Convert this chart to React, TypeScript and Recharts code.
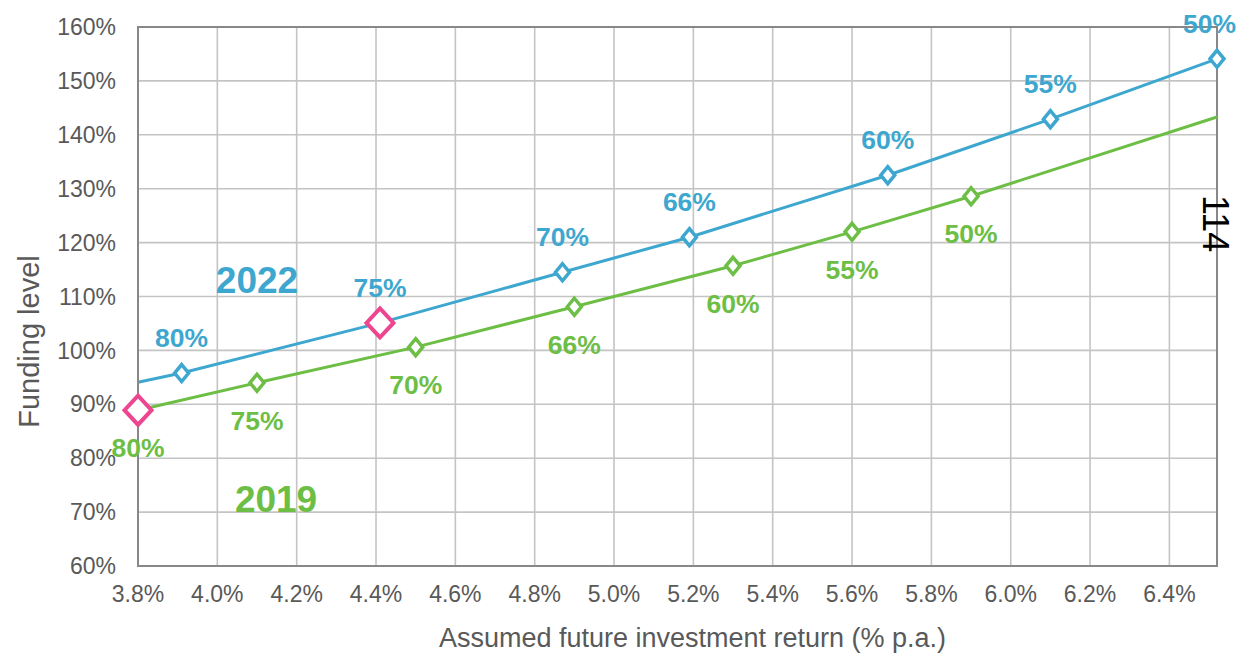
import React from 'react';
import {
  ComposedChart,
  Line,
  XAxis,
  YAxis,
  CartesianGrid,
  LabelList,
  Label,
  ReferenceArea,
  ReferenceDot,
} from 'recharts';

// 2022 valuation
const returns2022 = [3.8, 3.91, 4.41, 4.87, 5.19, 5.69, 6.1, 6.52];
const funding2022 = [94.1, 95.8, 105.1, 114.5, 121.0, 132.5, 142.9, 154.1];
const labels2022 = ['', '80%', '75%', '70%', '66%', '60%', '55%', '50%'];
const highlight2022 = [false, false, true, false, false, false, false, false];

// 2019 valuation
const returns2019 = [3.8, 4.1, 4.5, 4.9, 5.3, 5.6, 5.9, 6.52];
const funding2019 = [88.9, 94.0, 100.6, 108.1, 115.7, 122.0, 128.6, 143.3];
const labels2019 = ['80%', '75%', '70%', '66%', '60%', '55%', '50%', ''];
const highlight2019 = [true, false, false, false, false, false, false, false];

const xTicks = [3.8, 4.0, 4.2, 4.4, 4.6, 4.8, 5.0, 5.2, 5.4, 5.6, 5.8, 6.0, 6.2, 6.4];
const yTicks = [60, 70, 80, 90, 100, 110, 120, 130, 140, 150, 160];

const BLUE = '#3DA7CF';
const GREEN = '#6DBE45';
const PINK = '#EE4591';
const TEXT = '#595959';
const FONT = '"Liberation Sans", Arial, sans-serif';
const CHART_W = 1237;
const CHART_H = 654;

const build = (xs: number[], ys: number[], labels: string[], hl: boolean[]) =>
  xs.map((x, i) => ({ x, y: ys[i], label: labels[i], hl: hl[i] }));

const data2022 = build(returns2022, funding2022, labels2022, highlight2022);
const data2019 = build(returns2019, funding2019, labels2019, highlight2019);

const makeDot = (color: string) => (props: any) => {
  const { cx, cy, payload, index } = props;
  if (!payload || !payload.label) return <g key={`d-${index}`} />;
  const big = payload.hl;
  const rx = big ? 13.5 : 7;
  const ry = big ? 14.5 : 8.5;
  const stroke = big ? PINK : color;
  const d = `M${cx},${cy - ry} L${cx + rx},${cy} L${cx},${cy + ry} L${cx - rx},${cy} Z`;
  return (
    <path
      key={`d-${index}`}
      d={d}
      fill="#fff"
      stroke={stroke}
      strokeWidth={big ? 4 : 3.5}
      strokeLinejoin="miter"
    />
  );
};

const LABEL_SIZE = 26.5;

const makeLabel = (color: string, dy: number) => (props: any) => {
  const { x, y, value, index } = props;
  if (!value) return <g key={`l-${index}`} />;
  const half = (String(value).length * 0.667 * LABEL_SIZE) / 2;
  const cx = Math.min(x, CHART_W - half - 1);
  return (
    <text
      key={`l-${index}`}
      x={cx}
      y={y + dy}
      textAnchor="middle"
      fill={color}
      fontFamily={FONT}
      fontWeight="bold"
      fontSize={LABEL_SIZE}
    >
      {value}
    </text>
  );
};

const yearLabel = (text: string, color: string) => (props: any) => {
  const vb = props.viewBox || {};
  const cx = (vb.x || 0) + (vb.width || 0) / 2;
  const cy = (vb.y || 0) + (vb.height || 0) / 2;
  return (
    <text x={cx} y={cy} textAnchor="middle" fill={color} fontFamily={FONT} fontWeight="bold" fontSize={37}>
      {text}
    </text>
  );
};

const YLabel = (props: any) => {
  const vb = props.viewBox;
  const x = vb.x + 39;
  const y = vb.y + vb.height / 2 + 45;
  return (
    <text
      x={x}
      y={y}
      transform={`rotate(-90, ${x}, ${y})`}
      textAnchor="middle"
      fill={TEXT}
      fontFamily={FONT}
      fontSize={29}
    >
      Funding level
    </text>
  );
};

const XLabel = (props: any) => {
  const vb = props.viewBox;
  const x = vb.x + vb.width / 2 + 15;
  const y = vb.y + 81;
  return (
    <text x={x} y={y} textAnchor="middle" fill={TEXT} fontFamily={FONT} fontSize={27}>
      Assumed future investment return (% p.a.)
    </text>
  );
};

export default function App() {
  return (
    <div style={{ position: 'absolute', left: 0, top: 0, width: CHART_W, height: CHART_H, background: '#fff' }}>
      <ComposedChart
        width={CHART_W}
        height={CHART_H}
        margin={{ top: 27, right: 20, bottom: 0, left: 0 }}
        style={{ fontFamily: FONT }}
      >
        <CartesianGrid stroke="#c4c4c4" strokeWidth={1.6} />
        <XAxis
          type="number"
          dataKey="x"
          domain={[3.8, 6.52]}
          ticks={xTicks}
          height={88}
          tickLine={false}
          tickSize={6}
          tickMargin={14}
          axisLine={{ stroke: '#888', strokeWidth: 2 }}
          tick={{ fill: TEXT, fontSize: 23, fontFamily: FONT }}
          tickFormatter={(v: number) => `${v.toFixed(1)}%`}
          interval={0}
        >
          <Label content={XLabel} />
        </XAxis>
        <YAxis
          type="number"
          domain={[60, 160]}
          ticks={yTicks}
          width={138}
          tickLine={false}
          tickSize={6}
          tickMargin={16}
          axisLine={{ stroke: '#888', strokeWidth: 2 }}
          tick={{ fill: TEXT, fontSize: 23, fontFamily: FONT }}
          tickFormatter={(v: number) => `${v}%`}
          interval={0}
        >
          <Label content={YLabel} />
        </YAxis>
        <ReferenceArea x1={3.8} x2={6.52} y1={60} y2={160} fill="none" stroke="#888" strokeWidth={2} />
        <Line
          data={data2019}
          dataKey="y"
          stroke={GREEN}
          strokeWidth={3}
          dot={makeDot(GREEN)}
          activeDot={false}
          isAnimationActive={false}
        >
          <LabelList dataKey="label" content={makeLabel(GREEN, 47)} />
        </Line>
        <Line
          data={data2022}
          dataKey="y"
          stroke={BLUE}
          strokeWidth={3}
          dot={makeDot(BLUE)}
          activeDot={false}
          isAnimationActive={false}
        >
          <LabelList dataKey="label" content={makeLabel(BLUE, -26)} />
        </Line>
        <ReferenceDot x={4.1} y={110.6} r={0} fill="none" stroke="none" label={<Label content={yearLabel('2022', BLUE)} />} />
        <ReferenceDot x={4.148} y={70.0} r={0} fill="none" stroke="none" label={<Label content={yearLabel('2019', GREEN)} />} />
      </ComposedChart>
      <svg width={CHART_W} height={CHART_H} style={{ position: 'absolute', left: 0, top: 0, pointerEvents: 'none' }}>
        <text
          x={1203}
          y={195}
          transform="rotate(90, 1203, 195)"
          fill="#000"
          fontFamily={FONT}
          fontSize={36}
        >
          114
        </text>
      </svg>
    </div>
  );
}
